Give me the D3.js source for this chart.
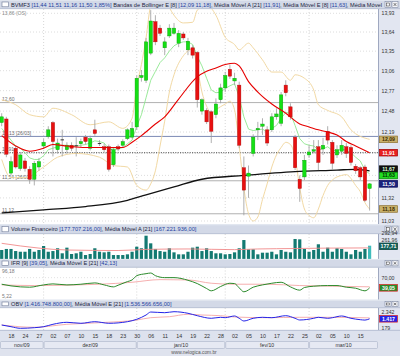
<!DOCTYPE html>
<html><head><meta charset="utf-8">
<script src="https://cdn.jsdelivr.net/npm/d3@7/dist/d3.min.js"></script>
<style>html,body{margin:0;padding:0;background:#fff;} svg{display:block;}</style>
</head><body>
<svg id="chart" width="400" height="356"></svg>
<script>
// ---------------- DATA ----------------
const ticker = "BVMF3";
const candleOpen = [12.32,12.37,11.64,11.97,11.70,11.80,11.69,11.56,11.72,12.00,
 12.13,12.32,11.95,12.09,11.95,12.01,12.00,12.03,12.12,11.97,
 12.22,12.04,11.99,11.99,11.75,11.99,12.01,12.10,12.12,12.26,
 12.96,12.92,13.32,13.80,13.70,13.40,13.58,13.62,13.47,13.61,
 13.37,13.40,13.33,12.48,12.49,12.47,12.43,12.64,12.81,13.08,
 12.91,12.85,11.71,11.60,11.90,12.22,12.27,12.22,12.22,12.40,
 12.31,12.85,12.54,12.12,11.56,11.59,11.88,11.93,11.99,11.96,
 12.20,12.05,11.88,11.93,11.99,11.98,11.73,11.71,11.72,11.44];
const candleHigh = [12.45,12.40,11.86,12.00,11.92,11.84,11.73,11.80,11.84,12.10,
 12.27,12.34,12.10,12.22,12.05,12.05,12.12,12.10,12.15,12.14,
 12.36,12.08,12.03,12.02,11.98,12.02,12.09,12.24,12.33,12.99,
 13.07,13.55,13.98,13.90,13.75,13.56,13.76,13.78,13.67,13.64,
 13.55,13.44,13.35,12.66,12.52,12.49,12.66,12.87,13.04,13.15,
 13.03,12.90,11.86,11.74,12.16,12.33,12.38,12.27,12.45,12.52,
 12.75,12.92,12.59,12.15,11.61,11.88,12.01,12.08,12.08,12.11,
 12.27,12.08,12.01,12.08,12.04,12.01,11.76,11.73,11.75,11.51];
const candleLow = [12.27,11.85,11.61,11.70,11.67,11.66,11.50,11.48,11.67,11.96,
 12.10,11.86,11.90,11.86,11.90,11.93,11.86,11.98,12.02,11.94,
 12.14,12.00,11.92,11.66,11.72,11.93,11.98,12.08,12.10,12.22,
 12.90,12.88,13.29,13.44,13.58,13.29,13.55,13.60,13.41,13.52,
 13.29,13.24,12.53,12.43,12.30,12.04,12.38,12.59,12.75,12.94,
 12.85,11.97,11.10,11.32,11.86,12.08,12.15,12.00,12.19,12.36,
 12.27,12.69,12.36,11.68,11.27,11.55,11.84,11.90,11.68,11.88,
 12.02,11.68,11.84,11.88,11.84,11.74,11.63,11.55,11.27,11.16];
const candleClose = [12.40,11.89,11.79,11.72,11.88,11.70,11.56,11.77,11.79,12.05,
 12.22,12.06,12.04,12.08,12.01,11.97,12.01,12.06,12.06,12.10,
 12.17,12.04,11.95,11.69,11.95,11.96,12.06,12.22,12.24,12.95,
 12.99,13.49,13.81,13.49,13.62,13.49,13.70,13.70,13.62,13.55,
 13.50,13.29,12.64,12.64,12.33,12.20,12.58,12.81,12.99,12.98,
 12.95,12.01,11.42,11.64,12.12,12.24,12.30,12.04,12.40,12.44,
 12.71,12.74,12.40,11.71,11.44,11.81,11.92,11.95,11.78,12.01,
 12.08,11.77,11.95,12.01,11.90,11.78,11.67,11.59,11.29,11.50];
// Média Móvel E [8] (one value per session)
const mme8 = [12.24,12.16,12.08,12.00,11.97,11.91,11.84,11.82,11.82,11.87,
 11.95,11.97,11.99,12.01,12.01,12.00,12.00,12.01,12.02,12.04,
 12.07,12.06,12.04,11.96,11.96,11.96,11.98,12.03,12.08,12.27,
 12.43,12.67,12.92,13.05,13.18,13.25,13.35,13.43,13.47,13.49,
 13.49,13.45,13.27,13.13,12.95,12.78,12.74,12.75,12.80,12.84,
 12.87,12.68,12.40,12.23,12.21,12.22,12.23,12.19,12.24,12.28,
 12.38,12.46,12.45,12.28,12.10,12.03,12.01,12.00,11.95,11.96,
 11.99,11.94,11.94,11.96,11.94,11.91,11.85,11.80,11.68,11.63];
// sparse readings [session index, value]
const bollUpper = [[0,12.64],[3,12.57],[6,12.43],[9,12.40],[11,12.52],[15,12.43],[19,12.29],[23,12.33],[26,12.24],[28,12.38],[29,12.83],[30,13.15],[31,13.55],[32,14.06],[33,14.18],[34,14.22],[35,14.18],[36,14.02],[37,13.90],[39,13.78],[41,13.79],[42,13.98],[44,14.06],[46,13.90],[48,13.56],[50,13.45],[51,13.37],[53,13.47],[54,13.40],[56,13.22],[58,13.04],[60,13.04],[62,12.92],[63,13.00],[65,12.95],[67,12.78],[68,12.57],[70,12.49],[73,12.40],[75,12.22],[79,12.09]];
const bollLower = [[0,11.82],[2,11.58],[5,11.58],[9,11.72],[12,11.85],[16,11.90],[21,11.85],[24,11.74],[27,11.72],[29,11.48],[31,11.42],[32,11.50],[33,11.67],[34,12.00],[35,12.34],[36,12.75],[37,13.00],[39,13.28],[41,13.38],[42,13.10],[43,12.75],[44,12.55],[45,12.45],[46,12.50],[48,12.58],[49,12.62],[50,12.50],[51,12.00],[52,11.45],[53,11.12],[54,11.03],[55,11.08],[56,11.30],[57,11.50],[58,11.72],[59,11.88],[60,11.98],[61,12.05],[62,12.02],[63,11.85],[64,11.45],[65,11.18],[66,11.10],[67,11.07],[68,11.18],[69,11.35],[70,11.48],[71,11.55],[73,11.61],[74,11.62],[75,11.57],[76,11.48],[77,11.40],[78,11.26],[79,11.18]];
const mma21 = [[0,12.14],[3,12.00],[6,11.93],[9,11.97],[11,12.02],[14,12.00],[18,11.98],[21,11.98],[26,11.98],[28,12.05],[30,12.14],[33,12.30],[35,12.40],[38,12.65],[42,12.97],[44,13.05],[46,13.10],[48,13.15],[50,13.17],[51,13.13],[53,12.90],[55,12.75],[58,12.58],[61,12.45],[64,12.30],[66,12.26],[68,12.22],[70,12.19],[72,12.15],[74,12.06],[76,12.00],[79,11.91]];
const mma200 = [[0,11.13],[9,11.17],[18,11.21],[27,11.29],[31,11.36],[37,11.46],[43,11.56],[52,11.61],[63,11.66],[72,11.68],[76,11.69],[79,11.67]];
const userLines = [12.60, 12.13, 11.91, 11.54, 11.12];
const userLineLabels = ["12,60", "12,13 [26/03]", "11,91", "11,54 [26/03]", "11,12"];
const priceTicks = [13.93,13.64,13.35,13.06,12.77,12.48,12.19,11.90,11.61,11.32,11.03];

const volume = [128,140,140,116,108,108,140,108,128,174,
 108,116,148,90,155,82,90,108,70,82,
 148,108,101,108,70,70,70,78,108,166,
 148,292.94,205,140,116,108,148,101,78,78,
 108,155,166,116,148,116,90,90,78,82,
 101,148,243,136,136,78,97,97,108,78,
 128,108,101,255,251,140,108,128,194,108,
 155,108,148,140,108,78,128,108,140,177.71];
const volumeMA = [[0,205],[4,175],[8,150],[14,128],[25,122],[31,135],[40,140],[50,132],[55,140],[63,145],[70,150],[79,152]];

const ifr = [[0,50],[2,45],[6,41],[9,48],[11,51],[14,48],[17,50],[20,54],[22,48],[24,42],[25,47],[27,58],[28,63],[29,76],[31,82],[32,84],[33,76],[35,70],[37,70],[40,62],[42,52],[44,37],[45,30],[47,43],[49,53],[50,52],[51,39],[52,27],[54,41],[56,48],[58,53],[60,56],[62,42],[64,32],[65,40],[67,44],[70,46],[72,46],[74,41],[76,38],[78,30],[79,39.05]];
const ifrMA = [[0,48],[7,46],[21,50],[28,56],[34,64],[40,63],[45,53],[50,50],[57,50],[64,46],[71,44],[79,42.13]];

const obv = [[0,609],[2,388],[4,179],[7,257],[9,388],[11,700],[14,961],[17,831],[20,1039],[23,831],[27,1039],[29,1352],[31,1912],[32,2300],[35,2212],[37,2342],[40,2134],[42,1821],[45,1482],[47,1612],[48,1560],[50,1782],[51,1482],[52,1130],[54,1482],[56,1612],[58,1560],[61,1821],[63,1482],[64,1261],[67,1482],[68,1612],[70,1482],[71,1560],[73,1782],[75,1482],[77,1300],[78,1250],[79,1417]];
const obvMA = [[0,609],[7,309],[14,700],[21,909],[29,1260],[32,1560],[36,1690],[40,2003],[43,1912],[47,1821],[50,1651],[57,1560],[64,1612],[71,1612],[79,1536.6]];

const tickIndex = [2,5,8,11,14,17,20,23,26,29,32,35,38,41,44,47,50,53,56,59,62,65,68,71,74,77];
const tickLabels = ["18","24","27","02","07","10","15","18","23","30","06","11","14","19","22","28","02","05","10","17","22","25","02","05","10","15"];
const monthEndIndex = [9,29,48,66];
const monthLabels = ["nov/09","dez/09","jan/10","fev/10","mar/10"];

const titleMain = [["BVMF3 ","d"],["[11,44 11,51 11,16 11,50 1,85%]","b"],[" Bandas de Bollinger E [8] ","d"],["[12,09 11,18]","b"],[", Média Móvel A [21] ","d"],["[11,91]","b"],[", Média Móvel E [8] ","d"],["[11,63]","b"],[", Média Móvel","d"]];
const titleVol = [["Volume Financeiro ","d"],["[177.707.216,00]","b"],[", Média Móvel A [21] ","d"],["[167.221.936,00]","b"]];
const titleIfr = [["IFR [9] ","d"],["[39,05]","b"],[", Média Móvel E [21] ","d"],["[42,13]","b"]];
const titleObv = [["OBV ","d"],["[1.416.748.800,00]","b"],[", Média Móvel E [21] ","d"],["[1.536.566.656,00]","b"]];

// ---------------- DRAW ----------------
const FONT = '"Liberation Sans", Arial, sans-serif';
const svg = d3.select("#chart").attr("font-family", FONT);
const PR = 378;
const loc = d3.formatLocale({decimal: ",", thousands: ".", grouping: [3], currency: ["R$ ", ""]});
const f2 = loc.format(",.2f"), f0 = loc.format(",.0f");

const P = {
  main: {t: 0, th: 9, top: 9, bot: 224},
  vol: {t: 224.5, th: 9.5, top: 234, bot: 259},
  ifr: {t: 259, th: 8.5, top: 267.5, bot: 299.5},
  obv: {t: 300, th: 8, top: 308, bot: 330}
};

const x = d3.scaleLinear().domain([0, 79]).range([1.7, 369.6]);
const yMain = d3.scaleLog().domain([11.03, 13.93]).range([221, 13.3]);
const yVol = d3.scaleLinear().domain([30, 292.94]).range([258.5, 235.7]);
const yIfr = d3.scaleLinear().domain([5.22, 96.18]).range([299, 269]);
const yObv = d3.scaleLinear().domain([179, 2342]).range([328.3, 311.7]);

svg.append("rect").attr("width", 400).attr("height", 356).attr("fill", "#dfe3ee");

const defs = svg.append("defs");
function clip(id, p) {
  defs.append("clipPath").attr("id", id).append("rect")
    .attr("x", 0).attr("y", p.top).attr("width", PR).attr("height", p.bot - p.top);
  return "url(#" + id + ")";
}
defs.append("clipPath").attr("id", "ctitle").append("rect").attr("x", 0).attr("y", 0).attr("width", 383).attr("height", 356);

function panel(p, parts, cid) {
  svg.append("rect").attr("x", 0).attr("y", p.top).attr("width", PR).attr("height", p.bot - p.top).attr("fill", "#fff");
  svg.append("rect").attr("x", PR).attr("y", p.top).attr("width", 400 - PR).attr("height", p.bot - p.top).attr("fill", "#e2e6f1");
  svg.append("line").attr("x1", PR + 0.5).attr("x2", PR + 0.5).attr("y1", p.top).attr("y2", p.bot).attr("stroke", "#8e98b4").attr("stroke-width", 0.8);
  const g = svg.append("g");
  g.append("rect").attr("x", 0).attr("y", p.t).attr("width", 400).attr("height", p.th).attr("fill", "#d3d9e7");
  g.append("line").attr("x1", 0).attr("x2", 400).attr("y1", p.t + 0.3).attr("y2", p.t + 0.3).attr("stroke", "#eef1f7").attr("stroke-width", 0.6);
  g.append("line").attr("x1", 0).attr("x2", 400).attr("y1", p.t + p.th - 0.3).attr("y2", p.t + p.th - 0.3).attr("stroke", "#a7b1c8").attr("stroke-width", 0.6);
  g.append("rect").attr("x", 2).attr("y", p.t + 2).attr("width", 6.5).attr("height", p.th - 4.2)
    .attr("fill", "#fff").attr("stroke", "#6f7b96").attr("stroke-width", 0.6);
  const t = g.append("text").attr("x", 11).attr("y", p.t + p.th / 2 + 2).attr("font-size", 5.65)
    .attr("clip-path", "url(#ctitle)");
  parts.forEach(q => t.append("tspan").text(q[0]).attr("fill", q[1] === "b" ? "#1e3fa0" : "#1b2440"));
  [385, 392].forEach((bx, k) => {
    g.append("rect").attr("x", bx).attr("y", p.t + 1.6).attr("width", 6).attr("height", p.th - 3.2)
      .attr("fill", "#f2f3f7").attr("stroke", "#6f7b96").attr("stroke-width", 0.5);
    if (k === 0) g.append("rect").attr("x", bx + 1.5).attr("y", p.t + 3).attr("width", 3).attr("height", p.th - 6)
      .attr("fill", "none").attr("stroke", "#333").attr("stroke-width", 0.5);
    else {
      g.append("path").attr("d", `M${bx + 1.6},${p.t + 3}L${bx + 4.4},${p.t + p.th - 3}M${bx + 4.4},${p.t + 3}L${bx + 1.6},${p.t + p.th - 3}`)
        .attr("stroke", "#333").attr("stroke-width", 0.6);
    }
  });
  const gg = svg.append("g");
  monthEndIndex.forEach(i => gg.append("line").attr("x1", x(i)).attr("x2", x(i)).attr("y1", p.top).attr("y2", p.bot)
    .attr("stroke", "#c4c4c4").attr("stroke-width", 0.7).attr("stroke-dasharray", "1,2"));
  return clip(cid, p);
}

function layoutLabels(items, gap) {
  items.sort((a, b) => a.y - b.y);
  for (let it = 0; it < 20; it++) {
    for (let k = 1; k < items.length; k++) {
      const d = items[k].y - items[k - 1].y;
      if (d < gap) { const m = (gap - d) / 2; items[k - 1].y -= m; items[k].y += m; }
    }
  }
  return items;
}
function drawBoxLabel(it) {
  if (it.box) {
    svg.append("rect").attr("x", 379.5).attr("y", it.y - 3.3).attr("width", 18).attr("height", 6.6)
      .attr("fill", it.box[0]).attr("stroke", it.box[1]).attr("stroke-width", 0.7);
    svg.append("text").attr("x", 388.5).attr("y", it.y + 1.9).attr("text-anchor", "middle").attr("font-size", 5.2)
      .attr("font-weight", "bold").attr("fill", it.box[2]).text(it.text);
  } else {
    svg.append("text").attr("x", 381.5).attr("y", it.y + 1.9).attr("font-size", 5.2).attr("fill", "#333").text(it.text);
  }
}

// ===== MAIN PANEL =====
const cMain = panel(P.main, titleMain, "cmain");
const gm = svg.append("g").attr("clip-path", cMain);
priceTicks.forEach(v => gm.append("line").attr("x1", 0).attr("x2", PR).attr("y1", yMain(v)).attr("y2", yMain(v))
  .attr("stroke", "#cfcfcf").attr("stroke-width", 0.7).attr("stroke-dasharray", "1,2"));
const userStyle = [["#a8a8a8", null], ["#6c7cab", null], ["#444", "1.2,1.2"], ["#a8a8a8", null], ["#a8a8a8", null]];
userLines.forEach((v, k) => {
  gm.append("line").attr("x1", 0).attr("x2", PR).attr("y1", yMain(v)).attr("y2", yMain(v))
    .attr("stroke", userStyle[k][0]).attr("stroke-width", 0.9).attr("stroke-dasharray", userStyle[k][1]);
  gm.append("text").attr("x", 2).attr("y", yMain(v) - 1.4).attr("font-size", 5).attr("fill", "#6a6a6a").text(userLineLabels[k]);
});
gm.append("text").attr("x", 2).attr("y", 15).attr("font-size", 5).attr("fill", "#8a8a8a").text("13,86 (OS)");

const lineMain = d3.line().x(d => x(d[0])).y(d => yMain(d[1])).curve(d3.curveMonotoneX);
gm.append("path").attr("d", lineMain(bollUpper)).attr("fill", "none").attr("stroke", "#f2d9a4").attr("stroke-width", 1);
gm.append("path").attr("d", lineMain(bollLower)).attr("fill", "none").attr("stroke", "#f2d9a4").attr("stroke-width", 1);
gm.append("path").attr("d", lineMain(mma200)).attr("fill", "none").attr("stroke", "#111").attr("stroke-width", 1.3);
gm.append("path").attr("d", d3.line().x((d, i) => x(i)).y(d => yMain(d))(mme8)).attr("fill", "none").attr("stroke", "#8fe88f").attr("stroke-width", 0.9);

const idx = d3.range(candleOpen.length);
gm.selectAll(".wick").data(idx).join("line").attr("x1", i => x(i)).attr("x2", i => x(i))
  .attr("y1", i => yMain(candleHigh[i])).attr("y2", i => yMain(candleLow[i])).attr("stroke", "#9c9c9c").attr("stroke-width", 0.8);
gm.selectAll(".body").data(idx).join("rect")
  .attr("x", i => x(i) - 1.7).attr("width", 3.4)
  .attr("y", i => Math.min(yMain(candleOpen[i]), yMain(candleClose[i])))
  .attr("height", i => Math.max(1, Math.abs(yMain(candleOpen[i]) - yMain(candleClose[i]))))
  .attr("fill", i => Math.abs(candleClose[i] - candleOpen[i]) < 0.015 ? "#333" : (candleClose[i] > candleOpen[i] ? "#14e014" : "#e81010"))
  .attr("stroke", i => Math.abs(candleClose[i] - candleOpen[i]) < 0.015 ? "none" : (candleClose[i] > candleOpen[i] ? "#0a9a0a" : "#a80a0a"))
  .attr("stroke-width", 0.4);
gm.append("path").attr("d", lineMain(mma21)).attr("fill", "none").attr("stroke", "#e60000").attr("stroke-width", 1.1);

const axMain = d3.axisRight(yMain).tickValues(priceTicks).tickFormat(f2).tickSize(0).tickPadding(3.5);
const gAx = svg.append("g").attr("transform", `translate(${PR},0)`).call(axMain)
  .attr("font-size", 5.2).attr("font-family", FONT);
gAx.select(".domain").remove();
gAx.selectAll("text").attr("fill", "#333");

const mainBoxes = layoutLabels([
  {y: yMain(12.09), text: f2(12.09), box: ["#c8b06a", "#8a7030", "#3a2a00"]},
  {y: yMain(11.91), text: f2(11.91), box: ["#e82020", "#a00000", "#fff"]},
  {y: yMain(11.67), text: f2(11.67), box: ["#111", "#000", "#d8ffd8"]},
  {y: yMain(11.63), text: f2(11.63), box: ["#22dd22", "#008000", "#003000"]},
  {y: yMain(11.50), text: f2(11.50), box: ["#1a237e", "#000050", "#fff"]},
  {y: yMain(11.18), text: f2(11.18), box: ["#c8b06a", "#8a7030", "#3a2a00"]}
], 6.4);
mainBoxes.forEach(drawBoxLabel);

// ===== VOLUME PANEL =====
const cVol = panel(P.vol, titleVol, "cvol");
const gv = svg.append("g").attr("clip-path", cVol);
gv.selectAll("rect.v").data(volume).join("rect")
  .attr("x", (d, i) => x(i) - 1.6).attr("width", 3.2)
  .attr("y", d => yVol(d)).attr("height", d => P.vol.bot - yVol(d))
  .attr("fill", (d, i) => i === volume.length - 1 ? "#3fbcbc" : "#137a72");
gv.append("path").attr("d", d3.line().x(d => x(d[0])).y(d => yVol(d[1])).curve(d3.curveMonotoneX)(volumeMA))
  .attr("fill", "none").attr("stroke", "#f08a8a").attr("stroke-width", 0.9);
layoutLabels([
  {y: yVol(292.94), text: f2(292.94)},
  {y: yVol(261.96), text: f2(261.96)},
  {y: yVol(177.71), text: f2(177.71), box: ["#12625c", "#063b36", "#fff"]}
], 6.4).forEach(drawBoxLabel);

// ===== IFR PANEL =====
const cIfr = panel(P.ifr, titleIfr, "cifr");
const gi = svg.append("g").attr("clip-path", cIfr);
gi.append("line").attr("x1", 0).attr("x2", PR).attr("y1", yIfr(70)).attr("y2", yIfr(70))
  .attr("stroke", "#d0d0d0").attr("stroke-width", 0.6).attr("stroke-dasharray", "1,2");
const lineIfr = d3.line().x(d => x(d[0])).y(d => yIfr(d[1])).curve(d3.curveMonotoneX);
gi.append("path").attr("d", lineIfr(ifrMA)).attr("fill", "none").attr("stroke", "#f4a6a6").attr("stroke-width", 0.9);
gi.append("path").attr("d", lineIfr(ifr)).attr("fill", "none").attr("stroke", "#2a8a2a").attr("stroke-width", 1);
gi.append("text").attr("x", 2).attr("y", 273).attr("font-size", 5).attr("fill", "#7a7a7a").text(f2(96.18));
gi.append("text").attr("x", 2).attr("y", 298).attr("font-size", 5).attr("fill", "#7a7a7a").text(f2(5.22));
layoutLabels([
  {y: yIfr(70), text: f2(70)},
  {y: yIfr(39.05), text: f2(39.05), box: ["#2a8a2a", "#e02020", "#fff"]}
], 6.4).forEach(drawBoxLabel);

// ===== OBV PANEL =====
const cObv = panel(P.obv, titleObv, "cobv");
const go = svg.append("g").attr("clip-path", cObv);
const lineObv = d3.line().x(d => x(d[0])).y(d => yObv(d[1])).curve(d3.curveMonotoneX);
go.append("path").attr("d", lineObv(obvMA)).attr("fill", "none").attr("stroke", "#f4a6a6").attr("stroke-width", 0.9);
go.append("path").attr("d", lineObv(obv)).attr("fill", "none").attr("stroke", "#2424e8").attr("stroke-width", 1);
layoutLabels([
  {y: yObv(2342), text: f0(2342)},
  {y: yObv(1417), text: f0(1417), box: ["#2424e8", "#e02020", "#fff"]},
  {y: yObv(179), text: f0(179)}
], 6.4).forEach(drawBoxLabel);

// ===== X AXIS =====
svg.append("rect").attr("x", 0).attr("y", 330).attr("width", 400).attr("height", 11).attr("fill", "#dde2ee");
svg.append("line").attr("x1", 0).attr("x2", 400).attr("y1", 330.3).attr("y2", 330.3).attr("stroke", "#9aa4bf").attr("stroke-width", 0.6);
const axX = d3.axisBottom(x).tickValues(tickIndex).tickFormat((d, k) => tickLabels[k]).tickSize(0).tickPadding(3);
const gX = svg.append("g").attr("transform", "translate(0,331)").call(axX).attr("font-size", 5.3).attr("font-family", FONT);
gX.select(".domain").remove();
gX.selectAll("text").attr("fill", "#333");

const bounds = [0].concat(monthEndIndex.map(i => x(i))).concat([PR]);
monthLabels.forEach((m, k) => {
  const x0 = bounds[k] + 0.5, x1 = bounds[k + 1] - 0.5;
  svg.append("rect").attr("x", x0).attr("y", 341.5).attr("width", x1 - x0).attr("height", 7)
    .attr("fill", "#e6e9f3").attr("stroke", "#a9b2c8").attr("stroke-width", 0.6).attr("rx", 1);
  svg.append("text").attr("x", (x0 + x1) / 2).attr("y", 346.9).attr("text-anchor", "middle")
    .attr("font-size", 5.2).attr("fill", "#333").text(m);
});
svg.append("text").attr("x", 194).attr("y", 354.3).attr("text-anchor", "middle").attr("font-size", 4.8)
  .attr("fill", "#555").text("www.nelogica.com.br");
</script>
</body></html>
